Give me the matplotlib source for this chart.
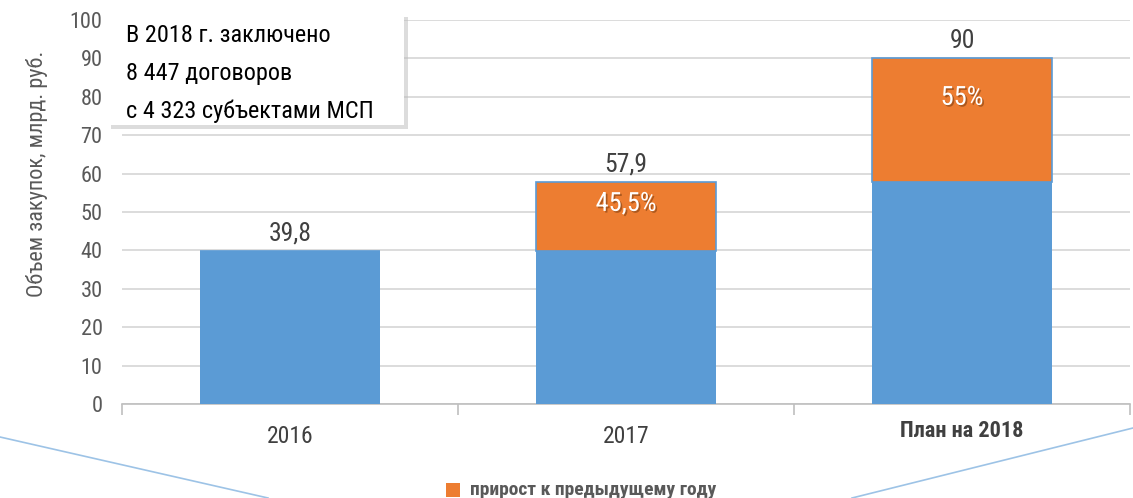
import matplotlib
matplotlib.use("Agg")
import matplotlib.pyplot as plt
import matplotlib.patheffects as pe
from matplotlib import font_manager
from matplotlib.lines import Line2D
from matplotlib.patches import Rectangle

# data
categories = ["2016", "2017", "План на 2018"]
base_values = [39.8, 39.8, 57.9]
growth_values = [0, 18.1, 32.1]
total_labels = ["39,8", "57,9", "90"]
growth_labels = ["", "45,5%", "55%"]
y_ticks = [0, 10, 20, 30, 40, 50, 60, 70, 80, 90, 100]
note_lines = ["В 2018 г. заключено", "8 447 договоров", "с 4 323 субъектами МСП"]

# pick a narrow font if one is installed
installed = {f.name for f in font_manager.fontManager.ttflist}
font = "Roboto"
for name in ["Liberation Sans Narrow", "Roboto Condensed", "Roboto"]:
    if name in installed:
        font = name
        break
plt.rcParams["font.family"] = [font, "DejaVu Sans"]

BLUE = "#5B9BD5"
ORANGE = "#ED7D31"
GRAY = "#595959"
DARK = "#404040"

W, H = 1133, 498
fig = plt.figure(figsize=(W / 100, H / 100), dpi=100)
ax = fig.add_axes([122 / W, 1 - 404 / H, 1008 / W, 384 / H])

x = list(range(len(categories)))
ax.bar(x, base_values, width=0.536, color=BLUE, zorder=3)
ax.bar(x, growth_values, width=0.536, bottom=base_values, color=ORANGE,
       edgecolor=BLUE, linewidth=1.2, zorder=3)

ax.set_xlim(-0.5, len(categories) - 0.5)
ax.set_ylim(0, 100)
ax.set_yticks(y_ticks)
ax.set_yticklabels([str(v) for v in y_ticks], fontsize=16, color=GRAY)
ax.yaxis.grid(True, color="#D9D9D9", linewidth=1.3, zorder=0)
ax.tick_params(axis="y", length=0, pad=14)

# category labels
ax.set_xticks(x)
ax.set_xticklabels(categories)
for i, lab in enumerate(ax.get_xticklabels()):
    if i == 2:
        lab.set_fontsize(16)
        lab.set_fontweight("bold")
        lab.set_y(0.012)
    else:
        lab.set_fontsize(17)
    lab.set_color(DARK)
ax.tick_params(axis="x", length=0, pad=15)
# boundary ticks between categories
ax.set_xticks([-0.5, 0.5, 1.5, 2.5], minor=True)
ax.tick_params(axis="x", which="minor", length=8, color="#BFBFBF", width=1.2)

for s in ["top", "right", "left"]:
    ax.spines[s].set_visible(False)
ax.spines["bottom"].set_color("#BFBFBF")
ax.spines["bottom"].set_linewidth(1.2)

ax.set_ylabel("Объем закупок, млрд. руб.", fontsize=16, color=GRAY)
ax.yaxis.set_label_coords(-0.073, 0.6)

# value labels
for i in x:
    total = base_values[i] + growth_values[i]
    ax.annotate(total_labels[i], (i, total), xytext=(0, 4), textcoords="offset points",
                ha="center", va="bottom", fontsize=18.5, color=DARK)
    if growth_labels[i]:
        ax.text(i, base_values[i] + growth_values[i] * 0.68, growth_labels[i],
                ha="center", va="center", fontsize=19, color="white",
                path_effects=[pe.withSimplePatchShadow(offset=(1.2, -1.2),
                                                       shadow_rgbFace="#7F3F10", alpha=0.6)])

# note box with shadow
fig.add_artist(Rectangle((111 / W, 1 - 129 / H), 297 / W, 112 / H, transform=fig.transFigure,
                         facecolor="#BBBBBB", edgecolor="none", alpha=0.5, zorder=5))
fig.add_artist(Rectangle((107 / W, 1 - 125 / H), 297 / W, 112 / H, transform=fig.transFigure,
                         facecolor="white", edgecolor="none", zorder=6))
for k, line in enumerate(note_lines):
    fig.text(126 / W, 1 - (35 + 38 * k) / H, line, fontsize=17.5, color="black",
             va="center", ha="left", zorder=7)

# decorative lines at the bottom
fig.add_artist(Line2D([0, 268 / W], [1 - 437 / H, 0], transform=fig.transFigure,
                      color="#9DC3E6", linewidth=1.2))
fig.add_artist(Line2D([1, 852 / W], [1 - 428 / H, 0], transform=fig.transFigure,
                      color="#9DC3E6", linewidth=1.2))

# legend
fig.add_artist(Rectangle((446 / W, 1 - 497 / H), 14 / W, 14 / H, transform=fig.transFigure,
                         facecolor=ORANGE, edgecolor="none"))
fig.text(470 / W, 1 - 490 / H, "прирост к предыдущему году", fontsize=14,
         fontweight="bold", color=GRAY, va="center", ha="left")

fig.savefig("out.png", dpi=100)
